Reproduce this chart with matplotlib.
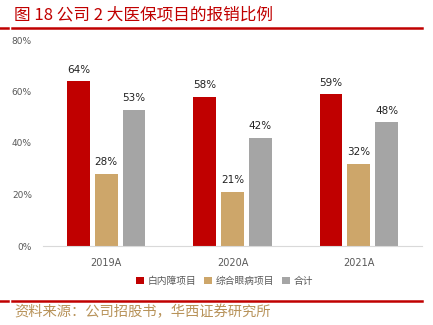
import matplotlib
matplotlib.use('Agg')
import matplotlib.pyplot as plt
import numpy as np
from matplotlib.lines import Line2D

plt.rcParams['font.family'] = ['Noto Sans CJK SC', 'DejaVu Sans']

years = ['2019A', '2020A', '2021A']
series_names = ['白内障项目', '综合眼病项目', '合计']
cataract = [64, 58, 59]
eye_disease = [28, 21, 32]
total = [53, 42, 48]
colors = ['#C00000', '#CDA66A', '#A5A5A5']

fig = plt.figure(figsize=(4.33, 3.25), dpi=100)

# title + red rules
fig.text(14/433, 1 - 15/325, '图 18 公司 2 大医保项目的报销比例', color='#C00000',
         fontsize=12, va='center', ha='left')
fig.add_artist(Line2D([0, 8/433], [1 - 27.5/325]*2, color='#C00000', lw=1.8))
fig.add_artist(Line2D([12/433, 422/433], [1 - 27.5/325]*2, color='#C00000', lw=1.8))
fig.add_artist(Line2D([0, 8/433], [1 - 301/325]*2, color='#C00000', lw=1.8))
fig.add_artist(Line2D([12/433, 422/433], [1 - 301/325]*2, color='#C00000', lw=1.8))
fig.text(14/433, 1 - 312/325, '资料来源：公司招股书，华西证券研究所', color='#B8935A',
         fontsize=10.3, va='center', ha='left')

ax = fig.add_axes([43/433, 1 - 246/325, (422 - 43)/433, (246 - 40)/325])

x = np.arange(len(years))
w = 0.18
step = 0.22
for i, (vals, name) in enumerate(zip([cataract, eye_disease, total], series_names)):
    bars = ax.bar(x + (i - 1) * step, vals, w, color=colors[i], label=name)
    for b, v in zip(bars, vals):
        ax.text(b.get_x() + b.get_width()/2, v + 2.5, f'{v}%', ha='center', va='bottom',
                fontsize=7.5, color='#222222', family='DejaVu Sans')

ax.set_xlim(-0.5, 2.5)
ax.set_ylim(0, 80)
ax.set_yticks([0, 20, 40, 60, 80])
ax.set_yticklabels(['0%', '20%', '40%', '60%', '80%'], fontsize=6.5, color='#595959',
                   family='DejaVu Sans')
ax.set_xticks(x)
ax.set_xticklabels(years, fontsize=7, color='#595959', family='DejaVu Sans')
ax.tick_params(axis='both', length=0)
ax.tick_params(axis='x', pad=9)
ax.tick_params(axis='y', pad=8)
for s in ['top', 'right', 'left']:
    ax.spines[s].set_visible(False)
ax.spines['bottom'].set_color('#D9D9D9')

ax.legend(loc='center', bbox_to_anchor=(0.48, -0.17), ncol=3, frameon=False,
          fontsize=7, handlelength=0.8, handleheight=0.8, handletextpad=0.4,
          columnspacing=0.8, labelcolor='#595959')

fig.savefig('out.png', dpi=100)
